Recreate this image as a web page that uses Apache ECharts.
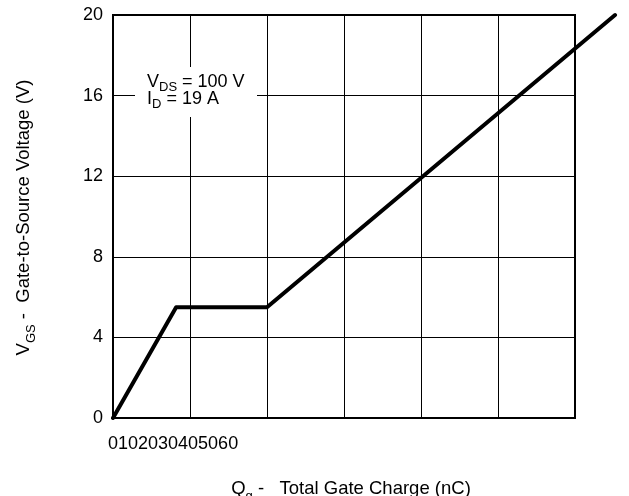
<!DOCTYPE html>
<html>
<head>
<meta charset="utf-8">
<script src="https://cdn.jsdelivr.net/npm/echarts@6/dist/echarts.min.js"></script>
<style>
  html, body { margin: 0; padding: 0; background: #fff; }
  #chart { width: 629px; height: 496px; }
</style>
</head>
<body>
<div id="chart"></div>
<script>
// Gate charge curve: total gate charge (nC) vs gate-to-source voltage (V)
const chargeNC = [0, 8.2, 20, 65.2];
const vgsVolts = [0, 5.5, 5.5, 20];
const xTickLabels = ['0', '10', '20', '30', '40', '50', '60'];
const yTickLabels = ['0', '4', '8', '12', '16', '20'];
const conditions = ['100', '19'];

const FONT = '"Liberation Sans", Arial, Helvetica, sans-serif';
const chart = echarts.init(document.getElementById('chart'));

function richStyles(main, sub, lh) {
  return {
    n: { fontSize: main, fontFamily: FONT, color: '#000', lineHeight: lh },
    s: { fontSize: sub, fontFamily: FONT, color: '#000', lineHeight: lh, verticalAlign: 'bottom', padding: [0, 0, -3, 0] }
  };
}

// Plot frame spans 0..60 nC; the curve runs on a wider twin grid so it can
// continue past the right edge of the frame up to 20 V.
const PX_PER_NC = (629 - 113 - 54) / 60;
const curveMax = 66;
const curveRight = 629 - 113 - PX_PER_NC * curveMax;

chart.setOption({
  animation: false,
  backgroundColor: '#fff',
  grid: [
    { left: 113, top: 15, right: 54, bottom: 78, show: true, borderColor: '#000', borderWidth: 2,
      backgroundColor: 'transparent', outerBoundsMode: 'none', containLabel: false },
    { left: 113, top: 15, right: curveRight, bottom: 78, show: false, outerBoundsMode: 'none', containLabel: false }
  ],
  xAxis: [{
    gridIndex: 0, type: 'value', min: 0, max: 60, interval: 10,
    axisLine: { show: true, lineStyle: { color: '#000', width: 2 } },
    axisTick: { show: false },
    axisLabel: { show: false },
    splitLine: { show: true, lineStyle: { color: '#000', width: 1 } },
    name: '{n|Q}{s|g}{n| -   Total Gate Charge (nC)}',
    nameLocation: 'middle', nameGap: 60,
    nameTextStyle: { rich: richStyles(18.5, 13, 22), padding: [0, 0, 0, 14] }
  }, {
    gridIndex: 1, type: 'value', min: 0, max: curveMax, show: false
  }],
  yAxis: [{
    gridIndex: 0, type: 'value', min: 0, max: 20, interval: 4,
    axisLine: { show: true, lineStyle: { color: '#000', width: 2 } },
    axisTick: { show: false },
    axisLabel: {
      fontSize: 18, fontFamily: FONT, color: '#000', margin: 10,
      formatter: (v) => yTickLabels[Math.round(v / 4)]
    },
    splitLine: { show: true, lineStyle: { color: '#000', width: 1 } },
    name: '{n|V}{s|GS}{n| -  Gate-to-Source Voltage (V)}',
    nameLocation: 'middle', nameGap: 78,
    nameTextStyle: { rich: richStyles(18.5, 13, 22), padding: [0, 2, 0, 0] }
  }, {
    gridIndex: 1, type: 'value', min: 0, max: 20, show: false
  }],
  graphic: [
    {
      type: 'rect', left: 135, top: 67, shape: { width: 122, height: 50 },
      style: { fill: '#fff' }, z: 50
    },
    {
      type: 'text', left: 147, top: 73, z: 51,
      style: {
        text: '{n|V}{s|DS}{n| = ' + conditions[0] + ' V}\n{n|I}{s|D}{n| = ' + conditions[1] + ' A}',
        rich: richStyles(18, 13, 17)
      }
    },
    {
      type: 'text', left: 108, top: 435, z: 51,
      style: { text: xTickLabels.join(''), fontSize: 18, fontFamily: FONT, fill: '#000' }
    }
  ],
  series: [{
    type: 'line',
    xAxisIndex: 1, yAxisIndex: 1,
    data: chargeNC.map((q, i) => [q, vgsVolts[i]]),
    clip: false,
    symbol: 'none',
    lineStyle: { color: '#000', width: 4, cap: 'round', join: 'round' },
    z: 10
  }]
});
</script>
</body>
</html>
